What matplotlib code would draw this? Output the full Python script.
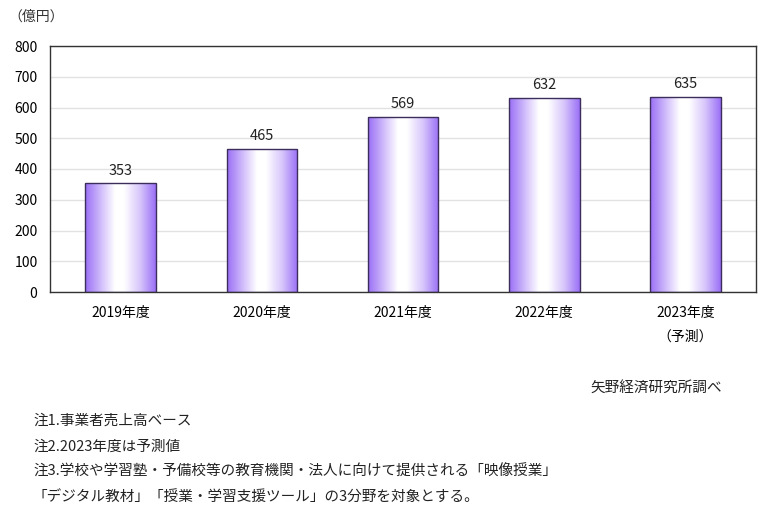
import matplotlib.pyplot as plt
import numpy as np
from matplotlib.colors import LinearSegmentedColormap

plt.rcParams['font.family'] = ['Noto Sans CJK JP', 'DejaVu Sans']

# データ
years = ["2019年度", "2020年度", "2021年度", "2022年度", "2023年度\n（予測）"]
values = [353, 465, 569, 632, 635]
yticks = [0, 100, 200, 300, 400, 500, 600, 700, 800]
notes = [
    "注1.事業者売上高ベース",
    "注2.2023年度は予測値",
    "注3.学校や学習塾・予備校等の教育機関・法人に向けて提供される「映像授業」",
    "「デジタル教材」「授業・学習支援ツール」の3分野を対象とする。",
]
source = "矢野経済研究所調べ"

W, H = 763, 525
fig = plt.figure(figsize=(W / 100, H / 100), dpi=100)
ax = fig.add_axes([50 / W, 1 - 292 / H, 706 / W, 246 / H])

x = np.arange(len(values))
bars = ax.bar(x, values, width=0.5, color="none", edgecolor="#3b2d5c", linewidth=1.0, zorder=3)

# 横方向グラデーション
cmap = LinearSegmentedColormap.from_list(
    "bar", [(0.0, "#9a6ff6"), (0.42, "#ffffff"), (0.55, "#ffffff"),
            (0.78, "#d6c5fb"), (1.0, "#9a6ff6")])
grad = np.linspace(0, 1, 256).reshape(1, -1)
for b in bars:
    bx, by = b.get_x(), b.get_y()
    im = ax.imshow(grad, cmap=cmap, aspect="auto", zorder=2,
                   extent=[bx, bx + b.get_width(), by, by + b.get_height()])
    im.set_clip_path(b)

for xi, v in zip(x, values):
    ax.text(xi, v + 18, str(v), ha="center", va="bottom", fontsize=10.5, color="#222222")

ax.set_xlim(-0.5, len(values) - 0.5)
ax.set_ylim(0, 800)
ax.set_yticks(yticks)
ax.set_xticks(x)
ax.set_xticklabels(years, fontsize=10, linespacing=1.9)
ax.tick_params(axis="y", labelsize=10, length=0, pad=9)
ax.tick_params(axis="x", length=0, pad=10)
ax.yaxis.grid(True, color="#e2e2e2", linewidth=1, zorder=0)
ax.set_axisbelow(True)
for s in ax.spines.values():
    s.set_color("#333333")
    s.set_linewidth(1.0)

fig.text(8 / W, 1 - 17 / H, "（億円）", fontsize=10, va="center", ha="left", color="#333333")
fig.text(722 / W, 1 - 388 / H, source, fontsize=10.5, va="center", ha="right", color="#222222")
for i, n in enumerate(notes):
    fig.text(33 / W, 1 - (421 + i * 25.5) / H, n, fontsize=10.5, va="center", ha="left", color="#222222")

fig.savefig("out.png", dpi=100)
